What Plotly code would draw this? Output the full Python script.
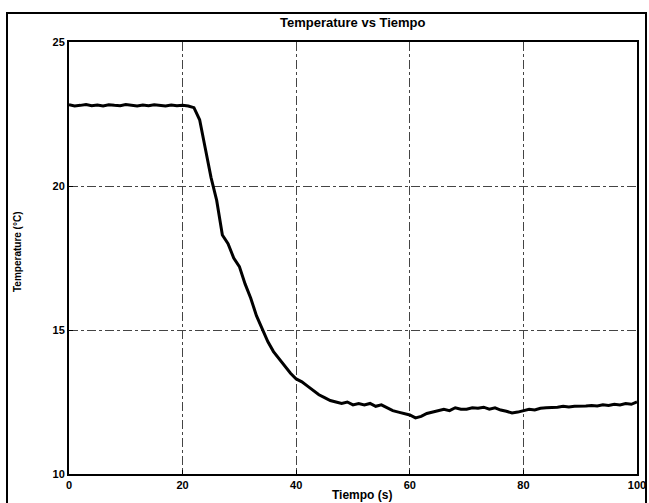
import plotly.graph_objects as go

# ---- data ----
tiempo = list(range(0, 101))
temperatura = [
    22.82, 22.78, 22.80, 22.83, 22.79, 22.81, 22.78, 22.82, 22.80, 22.79,
    22.83, 22.80, 22.78, 22.81, 22.79, 22.82, 22.80, 22.78, 22.81, 22.79,
    22.80, 22.78, 22.72, 22.30, 21.30, 20.30, 19.50, 18.30, 18.00, 17.50,
    17.20, 16.60, 16.10, 15.50, 15.05, 14.60, 14.25, 14.00, 13.75, 13.50,
    13.30, 13.20, 13.05, 12.90, 12.75, 12.65, 12.55, 12.50, 12.45, 12.50,
    12.40, 12.45, 12.40, 12.45, 12.35, 12.40, 12.30, 12.20, 12.15, 12.10,
    12.05, 11.95, 12.00, 12.10, 12.15, 12.20, 12.25, 12.20, 12.30, 12.25,
    12.25, 12.30, 12.28, 12.32, 12.25, 12.30, 12.22, 12.18, 12.12, 12.15,
    12.20, 12.25, 12.22, 12.28, 12.30, 12.30, 12.32, 12.35, 12.33, 12.35,
    12.35, 12.36, 12.38, 12.36, 12.40, 12.38, 12.42, 12.40, 12.45, 12.42,
    12.50,
]
x_ticks = [0, 20, 40, 60, 80, 100]
y_ticks = [10, 15, 20, 25]
title_text = "Temperature vs Tiempo"
x_title = "Tiempo (s)"
y_title = "Temperature (°C)"

W, H = 649, 503
L, R, T, B = 69, 12, 42, 29
pw, ph = W - L - R, H - T - B

def px(p):
    return (p - L) / pw

def py(p):
    return (H - B - p) / ph

font_family = "Liberation Sans, Arial, sans-serif"

fig = go.Figure()
fig.add_trace(go.Scatter(
    x=tiempo, y=temperatura, mode="lines",
    line=dict(color="black", width=3),
    showlegend=False,
))

axis_common = dict(
    showline=True, linecolor="black", linewidth=2, mirror=True,
    showgrid=True, gridcolor="#444444", gridwidth=1, griddash="dashdot",
    zeroline=False, ticks="inside", ticklen=4, tickcolor="black",
    tickfont=dict(family=font_family, size=11, color="black", weight="bold"),
)

fig.update_layout(
    width=W, height=H,
    margin=dict(l=L, r=R, t=T, b=B, autoexpand=False),
    paper_bgcolor="white", plot_bgcolor="white",
    xaxis=dict(range=[0, 100], tickvals=x_ticks, ticktext=[str(v) for v in x_ticks], **axis_common),
    yaxis=dict(range=[10, 25], tickvals=y_ticks, ticktext=[str(v) for v in y_ticks], **axis_common),
    annotations=[
        dict(text="<b>" + title_text + "</b>", xref="paper", yref="paper",
             x=0.5, y=py(22), xanchor="center", yanchor="middle", showarrow=False,
             font=dict(family=font_family, size=13, color="black")),
        dict(text="<b>" + x_title + "</b>", xref="paper", yref="paper",
             x=px(362), y=py(495), xanchor="center", yanchor="middle", showarrow=False,
             font=dict(family=font_family, size=12, color="black")),
        dict(text="<b>" + y_title + "</b>", xref="paper", yref="paper",
             x=px(17), y=py(252), xanchor="center", yanchor="middle", showarrow=False,
             textangle=-90,
             font=dict(family=font_family, size=10, color="black")),
    ],
    shapes=[
        dict(type="rect", xref="paper", yref="paper",
             x0=px(7), x1=px(646), y0=py(515), y1=py(13),
             line=dict(color="black", width=2), fillcolor="rgba(0,0,0,0)", layer="above"),
    ],
)

fig.write_html("out.html")
